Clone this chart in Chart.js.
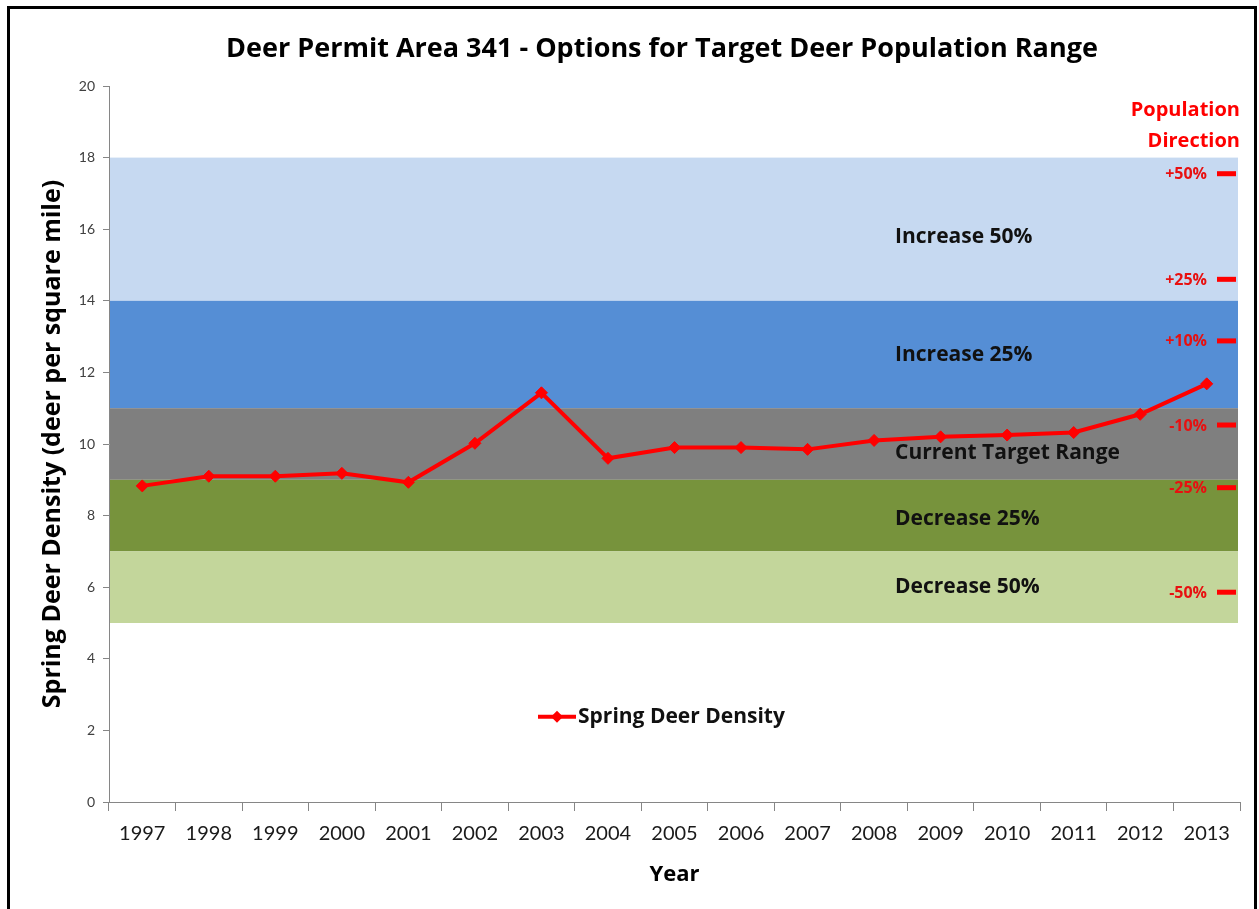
<!DOCTYPE html>
<html>
<head>
<meta charset="utf-8">
<title>Deer Permit Area 341</title>
<script src="https://cdn.jsdelivr.net/npm/chart.js@4.4.1/dist/chart.umd.min.js"></script>
<style>
	html, body { margin: 0; padding: 0; background: #fff; overflow: hidden; }
	#frame { position: absolute; left: 7px; top: 6px; width: 1244px; height: 920px; border: 3px solid #000; border-bottom: none; }
	#chart-area { position: absolute; left: 0; top: 0; }
</style>
</head>
<body>
<div id="frame"></div>
<canvas id="chart-area" width="1259" height="909"></canvas>
<script>
// deer density chart

var years = ["1997", "1998", "1999", "2000", "2001", "2002", "2003", "2004", "2005",
	"2006", "2007", "2008", "2009", "2010", "2011", "2012", "2013"];
var density = [8.83, 9.1, 9.1, 9.18, 8.93, 10.02, 11.43, 9.6, 9.9,
	9.9, 9.85, 10.1, 10.2, 10.25, 10.32, 10.83, 11.68];
var yTicks = [0, 2, 4, 6, 8, 10, 12, 14, 16, 18, 20];

var bandLow = [14, 11, 9, 7, 5];
var bandHigh = [18, 14, 11, 9, 7];
var bandLabels = ["Increase 50%", "Increase 25%", "Current Target Range", "Decrease 25%", "Decrease 50%"];
var bandColors = ["#c6d9f1", "#558ed5", "#7f7f7f", "#77933c", "#c3d69b"];
var bandLabelY = [15.78, 12.49, 9.75, 7.9, 6.0];

var directionLabels = ["+50%", "+25%", "+10%", "-10%", "-25%", "-50%"];
var directionValues = [17.55, 14.6, 12.88, 10.53, 8.78, 5.86];

var fontFamily = "Lato, 'Open Sans', sans-serif";
var boldFamily = "'Open Sans', Lato, sans-serif";

var extras = {
	id: 'extras',
	beforeDatasetsDraw: function(chart) {
		var ctx = chart.ctx, area = chart.chartArea, y = chart.scales.y;
		ctx.save();
		for (var i = 0; i < bandLow.length; i++) {
			var top = y.getPixelForValue(bandHigh[i]);
			var bottom = y.getPixelForValue(bandLow[i]);
			ctx.fillStyle = bandColors[i];
			ctx.fillRect(area.left + 1, top, area.right - area.left - 3, bottom - top);
		}
		// band labels
		ctx.font = "bold 21px " + boldFamily;
		ctx.fillStyle = "#111";
		ctx.textAlign = "left";
		ctx.textBaseline = "middle";
		var lx = area.left + (area.right - area.left) * 0.695;
		for (var j = 0; j < bandLabels.length; j++) {
			ctx.fillText(bandLabels[j], lx, y.getPixelForValue(bandLabelY[j]));
		}
		// population direction
		ctx.fillStyle = "#ff0000";
		ctx.textAlign = "right";
		ctx.font = "bold 20px " + boldFamily;
		ctx.fillText("Population", area.right, 110);
		ctx.fillText("Direction", area.right, 141);
		ctx.font = "bold 16px " + boldFamily;
		for (var k = 0; k < directionLabels.length; k++) {
			var py = y.getPixelForValue(directionValues[k]);
			ctx.fillStyle = "#e81010";
			ctx.fillText(directionLabels[k], area.right - 33, py + 1);
			ctx.fillStyle = "#ff0000";
			ctx.fillRect(area.right - 23, py - 2.5, 19, 5);
		}
		ctx.restore();
	},
	afterDraw: function(chart) {
		var ctx = chart.ctx, area = chart.chartArea;
		ctx.save();
		// title
		ctx.font = "bold 27px " + boldFamily;
		ctx.fillStyle = "#000";
		ctx.textAlign = "center";
		ctx.textBaseline = "middle";
		ctx.fillText("Deer Permit Area 341 - Options for Target Deer Population Range", 662, 49);
		// legend
		var ds = chart.data.datasets[0];
		var ly = chart.scales.y.getPixelForValue(2.38);
		ctx.strokeStyle = ds.borderColor;
		ctx.lineWidth = 4;
		ctx.beginPath();
		ctx.moveTo(538, ly);
		ctx.lineTo(576, ly);
		ctx.stroke();
		ctx.fillStyle = ds.borderColor;
		ctx.beginPath();
		ctx.moveTo(557, ly - 6);
		ctx.lineTo(563, ly);
		ctx.lineTo(557, ly + 6);
		ctx.lineTo(551, ly);
		ctx.closePath();
		ctx.fill();
		ctx.fillStyle = "#111";
		ctx.font = "bold 21px " + boldFamily;
		ctx.textAlign = "left";
		ctx.fillText(ds.label, 578, ly);
		ctx.restore();
	}
};

var config = {
	type: 'line',
	data: {
		labels: years,
		datasets: [{
			label: "Spring Deer Density",
			data: density,
			borderColor: "#ff0000",
			backgroundColor: "#ff0000",
			borderWidth: 4,
			pointStyle: 'rectRot',
			pointRadius: 6,
			pointBorderWidth: 1,
			tension: 0
		}]
	},
	options: {
		responsive: false,
		animation: false,
		layout: { padding: { left: 10, right: 19, top: 86, bottom: 0 } },
		plugins: {
			legend: { display: false },
			title: { display: false },
			tooltip: { enabled: false }
		},
		scales: {
			x: {
				offset: true,
				afterFit: function(scale) { scale.height = 107; },
				grid: { display: true, offset: true, drawOnChartArea: false, tickLength: 9, color: "#868686" },
				border: { color: "#868686", width: 1 },
				ticks: { color: "#1a1a1a", font: { family: fontFamily, size: 20 }, padding: 11, maxRotation: 0 },
				title: { display: true, text: "Year", color: "#000", font: { family: boldFamily, size: 22, weight: 'bold' }, padding: { top: 0, bottom: 21 } }
			},
			y: {
				min: 0,
				max: 20,
				afterFit: function(scale) { scale.width = 99; },
				afterBuildTicks: function(scale) {
					scale.ticks = yTicks.map(function(v) { return { value: v }; });
				},
				grid: { display: true, drawOnChartArea: false, tickLength: 6, color: "#868686" },
				border: { color: "#868686", width: 1 },
				ticks: { color: "#404040", font: { family: fontFamily, size: 14 }, padding: 8 },
				title: { display: true, text: "Spring Deer Density (deer per square mile)", color: "#000", font: { family: boldFamily, size: 25, weight: 'bold' }, padding: { top: 28, bottom: 0 } }
			}
		}
	},
	plugins: [extras]
};

window.onload = function() {
	var ctx = document.getElementById("chart-area").getContext("2d");
	window.myLine = new Chart(ctx, config);
};
</script>
</body>
</html>
